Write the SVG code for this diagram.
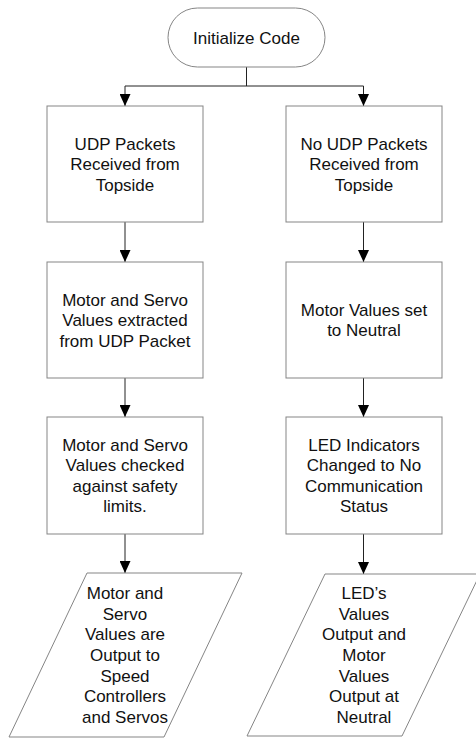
<svg xmlns="http://www.w3.org/2000/svg" width="476" height="738" viewBox="0 0 476 738">
<style>
.shape{fill:#ffffff;stroke:#858585;stroke-width:1}
.lbl{font-family:"Liberation Sans",Arial,sans-serif;font-size:17px;fill:#111111;text-anchor:middle}
.conn{fill:none;stroke:#222222;stroke-width:1}
</style>
<defs>
<marker id="arr" viewBox="0 0 12 11" refX="12" refY="5.5" markerWidth="12" markerHeight="11" markerUnits="userSpaceOnUse" orient="auto">
<path d="M0,0 L12,5.5 L0,11 z" fill="#000000"/>
</marker>
</defs>
<rect width="476" height="738" fill="#ffffff"/>
<g id="connectors">
<line class="conn" x1="246.5" y1="67" x2="246.5" y2="86"/>
<line class="conn" x1="125" y1="86" x2="363.5" y2="86"/>
<line class="conn" x1="125" y1="86" x2="125" y2="106" marker-end="url(#arr)"/>
<line class="conn" x1="363.5" y1="86" x2="363.5" y2="106" marker-end="url(#arr)"/>
<line class="conn" x1="125" y1="222" x2="125" y2="262" marker-end="url(#arr)"/>
<line class="conn" x1="363.5" y1="222" x2="363.5" y2="262" marker-end="url(#arr)"/>
<line class="conn" x1="125" y1="378" x2="125" y2="417" marker-end="url(#arr)"/>
<line class="conn" x1="363.5" y1="378" x2="363.5" y2="417" marker-end="url(#arr)"/>
<line class="conn" x1="125" y1="534" x2="125" y2="573" marker-end="url(#arr)"/>
<line class="conn" x1="363.5" y1="534" x2="363.5" y2="574" marker-end="url(#arr)"/>
</g>
<g id="init">
<rect class="shape" x="168" y="8" width="157" height="59" rx="29.5" ry="29.5"/>
<text class="lbl" x="246.5" y="44">Initialize Code</text>
</g>
<g id="udp_received">
<rect class="shape" x="47" y="106" width="156" height="116"/>
<text class="lbl"><tspan x="125" y="149.5">UDP Packets</tspan><tspan x="125" y="170">Received from</tspan><tspan x="125" y="190.5">Topside</tspan></text>
</g>
<g id="no_udp">
<rect class="shape" x="286" y="106" width="156" height="116"/>
<text class="lbl"><tspan x="364" y="149.5">No UDP Packets</tspan><tspan x="364" y="170">Received from</tspan><tspan x="364" y="190.5">Topside</tspan></text>
</g>
<g id="extract">
<rect class="shape" x="47" y="262" width="156" height="116"/>
<text class="lbl"><tspan x="125" y="305.5">Motor and Servo</tspan><tspan x="125" y="326">Values extracted</tspan><tspan x="125" y="346.5">from UDP Packet</tspan></text>
</g>
<g id="neutral">
<rect class="shape" x="286" y="262" width="156" height="116"/>
<text class="lbl"><tspan x="364" y="315.75">Motor Values set</tspan><tspan x="364" y="336.25">to Neutral</tspan></text>
</g>
<g id="check">
<rect class="shape" x="47" y="417" width="156" height="117"/>
<text class="lbl"><tspan x="125" y="450.75">Motor and Servo</tspan><tspan x="125" y="471.25">Values checked</tspan><tspan x="125" y="491.75">against safety</tspan><tspan x="125" y="512.25">limits.</tspan></text>
</g>
<g id="led">
<rect class="shape" x="286" y="417" width="156" height="117"/>
<text class="lbl"><tspan x="364" y="450.75">LED Indicators</tspan><tspan x="364" y="471.25">Changed to No</tspan><tspan x="364" y="491.75">Communication</tspan><tspan x="364" y="512.25">Status</tspan></text>
</g>
<g id="output_left">
<polygon class="shape" points="87,573 242,573 164,737 9,737"/>
<text class="lbl"><tspan x="125" y="599.2">Motor and</tspan><tspan x="125" y="619.8">Servo</tspan><tspan x="125" y="640.4">Values are</tspan><tspan x="125" y="661">Output to</tspan><tspan x="125" y="681.6">Speed</tspan><tspan x="125" y="702.2">Controllers</tspan><tspan x="125" y="722.8">and Servos</tspan></text>
</g>
<g id="output_right">
<polygon class="shape" points="325,574 480,574 402,736 247,736"/>
<text class="lbl"><tspan x="364" y="599.2">LED’s</tspan><tspan x="364" y="619.8">Values</tspan><tspan x="364" y="640.4">Output and</tspan><tspan x="364" y="661">Motor</tspan><tspan x="364" y="681.6">Values</tspan><tspan x="364" y="702.2">Output at</tspan><tspan x="364" y="722.8">Neutral</tspan></text>
</g>
</svg>
